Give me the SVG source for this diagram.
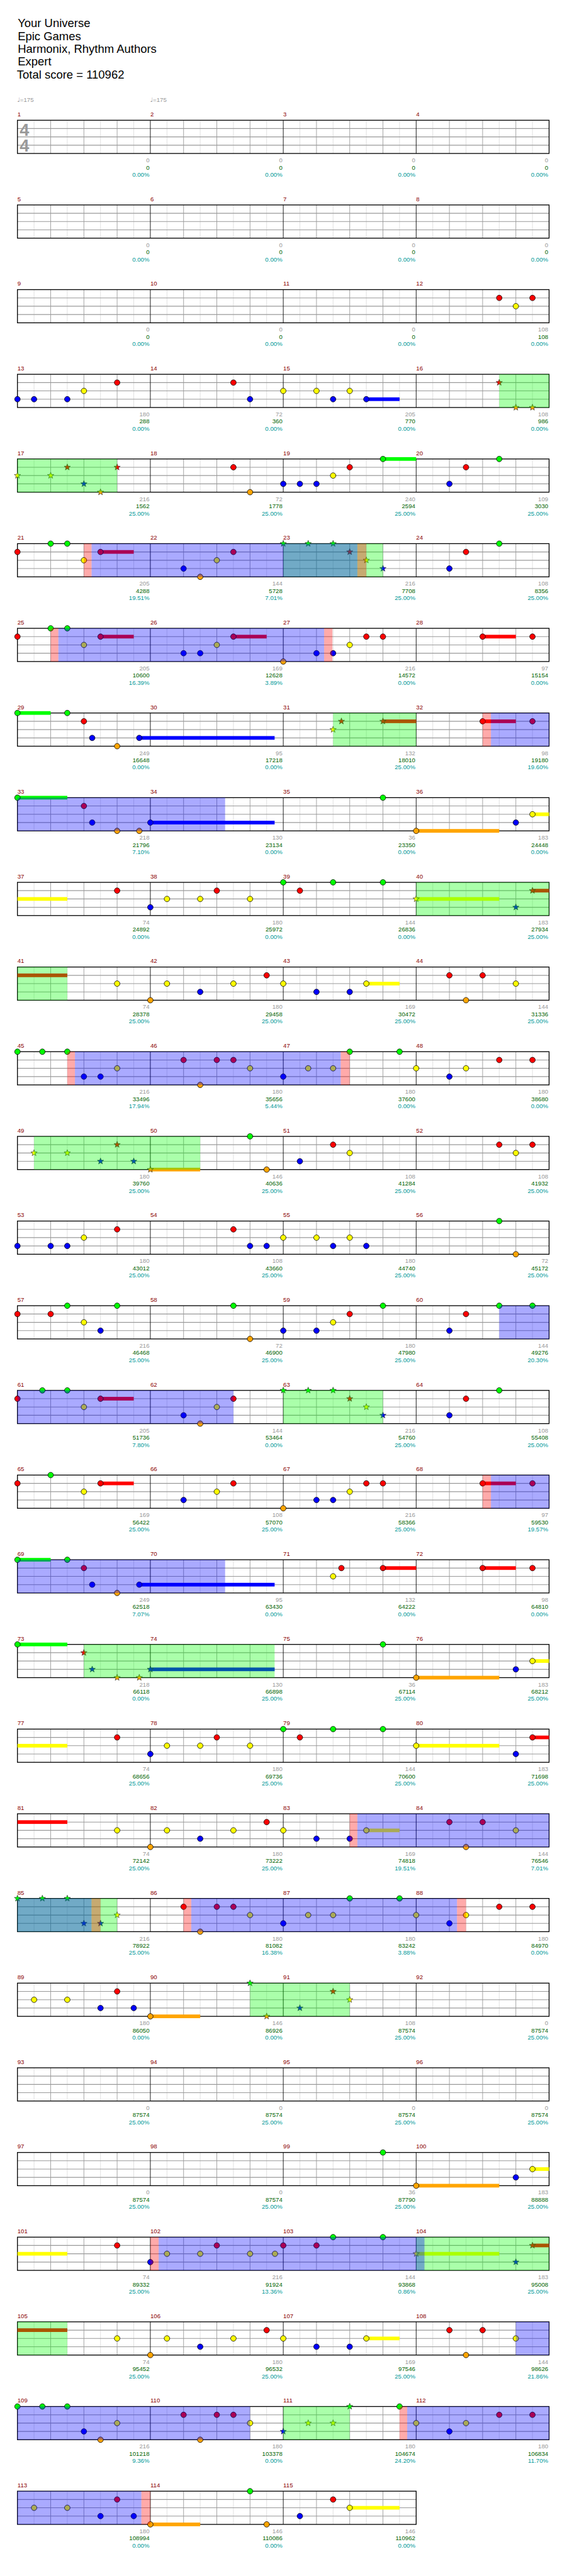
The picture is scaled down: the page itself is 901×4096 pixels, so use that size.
<svg xmlns="http://www.w3.org/2000/svg" xmlns:xlink="http://www.w3.org/1999/xlink" width="901" height="4096" viewBox="0 0 901 4096">
<style>
text{font-family:"Liberation Sans",Arial,sans-serif}
.ttl{font-size:21px;fill:#000}
.m{font-size:11px;fill:#8b0000}
.a{font-size:11px;fill:#999;text-anchor:end}
.c{font-size:11px;fill:#006400;text-anchor:end}
.d{font-size:11px;fill:#009999;text-anchor:end}
.tmp{font-size:11px;fill:#999}
.ts{font-size:31px;font-weight:bold;fill:#999;text-anchor:middle}
.n{stroke:#000;stroke-width:.9}
.st{stroke:#222;stroke-width:.7}
.G{fill:#00ff00}.R{fill:#ff0000}.Y{fill:#ffff00}.B{fill:#0000ff}.O{fill:#ffa500}
.og{fill:#00ff00;fill-opacity:.333}.ob{fill:#0000ff;fill-opacity:.333}.or{fill:#ff0000;fill-opacity:.333}
</style>
<defs>
<path id="star" d="M0,-6L1.47,-2.02L5.71,-1.85L2.38,0.77L3.53,4.85L0,2.5L-3.53,4.85L-2.38,0.77L-5.71,-1.85L-1.47,-2.02Z"/>
<g id="staff4">
<path d="M61.5 0V60M121.5 0V60M181.5 0V60M241.5 0V60M301.5 0V60M361.5 0V60M421.5 0V60M481.5 0V60M541.5 0V60M601.5 0V60M661.5 0V60M721.5 0V60M781.5 0V60M841.5 0V60M901.5 0V60M961.5 0V60" stroke="#ddd" stroke-width="1" fill="none"/>
<path d="M91.5 0V60M151.5 0V60M211.5 0V60M331.5 0V60M391.5 0V60M451.5 0V60M571.5 0V60M631.5 0V60M691.5 0V60M811.5 0V60M871.5 0V60M931.5 0V60" stroke="#999" stroke-width="1" fill="none"/>
<path d="M31.5 15H991.5M31.5 30H991.5M31.5 45H991.5" stroke="#999" stroke-width="1.3" fill="none"/>
<path d="M271.5 0V60M511.5 0V60M751.5 0V60" stroke="#000" stroke-width="1" fill="none"/>
<rect x="31.5" y="0" width="960" height="60" fill="none" stroke="#000" stroke-width="1.5"/>
</g>
<g id="staff3">
<path d="M61.5 0V60M121.5 0V60M181.5 0V60M241.5 0V60M301.5 0V60M361.5 0V60M421.5 0V60M481.5 0V60M541.5 0V60M601.5 0V60M661.5 0V60M721.5 0V60" stroke="#ddd" stroke-width="1" fill="none"/>
<path d="M91.5 0V60M151.5 0V60M211.5 0V60M331.5 0V60M391.5 0V60M451.5 0V60M571.5 0V60M631.5 0V60M691.5 0V60" stroke="#999" stroke-width="1" fill="none"/>
<path d="M31.5 15H751.5M31.5 30H751.5M31.5 45H751.5" stroke="#999" stroke-width="1.3" fill="none"/>
<path d="M271.5 0V60M511.5 0V60" stroke="#000" stroke-width="1" fill="none"/>
<rect x="31.5" y="0" width="720" height="60" fill="none" stroke="#000" stroke-width="1.5"/>
</g>
</defs>
<rect x="0" y="0" width="901" height="4096" fill="#fff"/>
<g transform="scale(0.88)">
<g id="header">
<text class="ttl" x="32" y="49">Your Universe</text>
<text class="ttl" x="32" y="72.2">Epic Games</text>
<text class="ttl" x="32" y="95.4">Harmonix, Rhythm Authors</text>
<text class="ttl" x="32" y="118.6">Expert</text>
<text class="ttl" x="30.5" y="141.8">Total score = 110962</text>
<text class="tmp" x="31" y="184"><tspan font-family="DejaVu Sans">♩</tspan>=175</text>
<text class="tmp" x="271" y="184"><tspan font-family="DejaVu Sans">♩</tspan>=175</text>
</g>

<g id="row1" transform="translate(0,217.3)">
<use href="#staff4"/>
<text class="ts" x="44" y="27.7">4</text><text class="ts" x="44" y="56.7">4</text>
<text class="m" x="31.5" y="-7">1</text><text class="m" x="271.5" y="-7">2</text><text class="m" x="511.5" y="-7">3</text><text class="m" x="751.5" y="-7">4</text>
<text class="a" x="270" y="76">0</text><text class="c" x="270" y="89">0</text><text class="d" x="270" y="102">0.00%</text>
<text class="a" x="510" y="76">0</text><text class="c" x="510" y="89">0</text><text class="d" x="510" y="102">0.00%</text>
<text class="a" x="750" y="76">0</text><text class="c" x="750" y="89">0</text><text class="d" x="750" y="102">0.00%</text>
<text class="a" x="990" y="76">0</text><text class="c" x="990" y="89">0</text><text class="d" x="990" y="102">0.00%</text>
</g>

<g id="row2" transform="translate(0,370.3)">
<use href="#staff4"/>
<text class="m" x="31.5" y="-7">5</text><text class="m" x="271.5" y="-7">6</text><text class="m" x="511.5" y="-7">7</text><text class="m" x="751.5" y="-7">8</text>
<text class="a" x="270" y="76">0</text><text class="c" x="270" y="89">0</text><text class="d" x="270" y="102">0.00%</text>
<text class="a" x="510" y="76">0</text><text class="c" x="510" y="89">0</text><text class="d" x="510" y="102">0.00%</text>
<text class="a" x="750" y="76">0</text><text class="c" x="750" y="89">0</text><text class="d" x="750" y="102">0.00%</text>
<text class="a" x="990" y="76">0</text><text class="c" x="990" y="89">0</text><text class="d" x="990" y="102">0.00%</text>
</g>

<g id="row3" transform="translate(0,523.3)">
<use href="#staff4"/>
<text class="m" x="31.5" y="-7">9</text><text class="m" x="271.5" y="-7">10</text><text class="m" x="511.5" y="-7">11</text><text class="m" x="751.5" y="-7">12</text>
<text class="a" x="270" y="76">0</text><text class="c" x="270" y="89">0</text><text class="d" x="270" y="102">0.00%</text>
<text class="a" x="510" y="76">0</text><text class="c" x="510" y="89">0</text><text class="d" x="510" y="102">0.00%</text>
<text class="a" x="750" y="76">0</text><text class="c" x="750" y="89">0</text><text class="d" x="750" y="102">0.00%</text>
<text class="a" x="990" y="76">108</text><text class="c" x="990" y="89">108</text><text class="d" x="990" y="102">0.00%</text>
<circle class="n R" cx="901.5" cy="15" r="5"/><circle class="n Y" cx="931.5" cy="30" r="5"/><circle class="n R" cx="961.5" cy="15" r="5"/>
</g>

<g id="row4" transform="translate(0,676.3)">
<use href="#staff4"/>
<text class="m" x="31.5" y="-7">13</text><text class="m" x="271.5" y="-7">14</text><text class="m" x="511.5" y="-7">15</text><text class="m" x="751.5" y="-7">16</text>
<text class="a" x="270" y="76">180</text><text class="c" x="270" y="89">288</text><text class="d" x="270" y="102">0.00%</text>
<text class="a" x="510" y="76">72</text><text class="c" x="510" y="89">360</text><text class="d" x="510" y="102">0.00%</text>
<text class="a" x="750" y="76">205</text><text class="c" x="750" y="89">770</text><text class="d" x="750" y="102">0.00%</text>
<text class="a" x="990" y="76">108</text><text class="c" x="990" y="89">986</text><text class="d" x="990" y="102">0.00%</text>
<rect class="B" x="661.5" y="41.7" width="60" height="6.6"/>
<circle class="n B" cx="31.5" cy="45" r="5"/><circle class="n B" cx="61.5" cy="45" r="5"/><circle class="n B" cx="121.5" cy="45" r="5"/><circle class="n Y" cx="151.5" cy="30" r="5"/><circle class="n R" cx="211.5" cy="15" r="5"/><circle class="n R" cx="421.5" cy="15" r="5"/><circle class="n B" cx="451.5" cy="45" r="5"/><circle class="n Y" cx="511.5" cy="30" r="5"/><circle class="n Y" cx="571.5" cy="30" r="5"/><circle class="n B" cx="601.5" cy="45" r="5"/><circle class="n Y" cx="631.5" cy="30" r="5"/><circle class="n B" cx="661.5" cy="45" r="5"/>
<use href="#star" class="st R" x="901.5" y="15"/><use href="#star" class="st O" x="931.5" y="60"/><use href="#star" class="st O" x="961.5" y="60"/>
<rect class="og" x="901.5" y="0" width="90" height="60"/>
</g>

<g id="row5" transform="translate(0,829.3)">
<use href="#staff4"/>
<text class="m" x="31.5" y="-7">17</text><text class="m" x="271.5" y="-7">18</text><text class="m" x="511.5" y="-7">19</text><text class="m" x="751.5" y="-7">20</text>
<text class="a" x="270" y="76">216</text><text class="c" x="270" y="89">1562</text><text class="d" x="270" y="102">25.00%</text>
<text class="a" x="510" y="76">72</text><text class="c" x="510" y="89">1778</text><text class="d" x="510" y="102">25.00%</text>
<text class="a" x="750" y="76">240</text><text class="c" x="750" y="89">2594</text><text class="d" x="750" y="102">25.00%</text>
<text class="a" x="990" y="76">109</text><text class="c" x="990" y="89">3030</text><text class="d" x="990" y="102">25.00%</text>
<rect class="G" x="691.5" y="-3.3" width="60" height="6.6"/>
<circle class="n R" cx="421.5" cy="15" r="5"/><circle class="n O" cx="451.5" cy="60" r="5"/><circle class="n B" cx="511.5" cy="45" r="5"/><circle class="n B" cx="541.5" cy="45" r="5"/><circle class="n B" cx="571.5" cy="45" r="5"/><circle class="n Y" cx="601.5" cy="30" r="5"/><circle class="n R" cx="631.5" cy="15" r="5"/><circle class="n G" cx="691.5" cy="0" r="5"/><circle class="n B" cx="811.5" cy="45" r="5"/><circle class="n R" cx="841.5" cy="15" r="5"/><circle class="n G" cx="901.5" cy="0" r="5"/>
<use href="#star" class="st Y" x="31.5" y="30"/><use href="#star" class="st Y" x="91.5" y="30"/><use href="#star" class="st R" x="121.5" y="15"/><use href="#star" class="st B" x="151.5" y="45"/><use href="#star" class="st O" x="181.5" y="60"/><use href="#star" class="st R" x="211.5" y="15"/>
<rect class="og" x="31.5" y="0" width="180" height="60"/>
</g>

<g id="row6" transform="translate(0,982.3)">
<use href="#staff4"/>
<text class="m" x="31.5" y="-7">21</text><text class="m" x="271.5" y="-7">22</text><text class="m" x="511.5" y="-7">23</text><text class="m" x="751.5" y="-7">24</text>
<text class="a" x="270" y="76">205</text><text class="c" x="270" y="89">4288</text><text class="d" x="270" y="102">19.51%</text>
<text class="a" x="510" y="76">144</text><text class="c" x="510" y="89">5728</text><text class="d" x="510" y="102">7.01%</text>
<text class="a" x="750" y="76">216</text><text class="c" x="750" y="89">7708</text><text class="d" x="750" y="102">25.00%</text>
<text class="a" x="990" y="76">108</text><text class="c" x="990" y="89">8356</text><text class="d" x="990" y="102">25.00%</text>
<rect class="R" x="181.5" y="11.7" width="60" height="6.6"/>
<circle class="n R" cx="31.5" cy="15" r="5"/><circle class="n G" cx="91.5" cy="0" r="5"/><circle class="n G" cx="121.5" cy="0" r="5"/><circle class="n Y" cx="151.5" cy="30" r="5"/><circle class="n R" cx="181.5" cy="15" r="5"/><circle class="n B" cx="331.5" cy="45" r="5"/><circle class="n O" cx="361.5" cy="60" r="5"/><circle class="n Y" cx="391.5" cy="30" r="5"/><circle class="n R" cx="421.5" cy="15" r="5"/><circle class="n B" cx="811.5" cy="45" r="5"/><circle class="n R" cx="841.5" cy="15" r="5"/><circle class="n G" cx="901.5" cy="0" r="5"/>
<use href="#star" class="st G" x="511.5" y="0"/><use href="#star" class="st G" x="556.5" y="0"/><use href="#star" class="st G" x="601.5" y="0"/><use href="#star" class="st R" x="631.5" y="15"/><use href="#star" class="st Y" x="661.5" y="30"/><use href="#star" class="st B" x="691.5" y="45"/>
<rect class="og" x="511.5" y="0" width="180" height="60"/>
<rect class="ob" x="165.3" y="0" width="480" height="60"/>
<rect class="or" x="151.5" y="0" width="13.8" height="60"/><rect class="or" x="645.3" y="0" width="16.2" height="60"/>
</g>

<g id="row7" transform="translate(0,1135.3)">
<use href="#staff4"/>
<text class="m" x="31.5" y="-7">25</text><text class="m" x="271.5" y="-7">26</text><text class="m" x="511.5" y="-7">27</text><text class="m" x="751.5" y="-7">28</text>
<text class="a" x="270" y="76">205</text><text class="c" x="270" y="89">10600</text><text class="d" x="270" y="102">16.39%</text>
<text class="a" x="510" y="76">169</text><text class="c" x="510" y="89">12628</text><text class="d" x="510" y="102">3.89%</text>
<text class="a" x="750" y="76">216</text><text class="c" x="750" y="89">14572</text><text class="d" x="750" y="102">0.00%</text>
<text class="a" x="990" y="76">97</text><text class="c" x="990" y="89">15154</text><text class="d" x="990" y="102">0.00%</text>
<rect class="R" x="181.5" y="11.7" width="60" height="6.6"/><rect class="R" x="421.5" y="11.7" width="60" height="6.6"/><rect class="R" x="871.5" y="11.7" width="60" height="6.6"/>
<circle class="n R" cx="31.5" cy="15" r="5"/><circle class="n G" cx="91.5" cy="0" r="5"/><circle class="n G" cx="121.5" cy="0" r="5"/><circle class="n Y" cx="151.5" cy="30" r="5"/><circle class="n R" cx="181.5" cy="15" r="5"/><circle class="n B" cx="331.5" cy="45" r="5"/><circle class="n B" cx="361.5" cy="45" r="5"/><circle class="n Y" cx="391.5" cy="30" r="5"/><circle class="n R" cx="421.5" cy="15" r="5"/><circle class="n O" cx="511.5" cy="60" r="5"/><circle class="n B" cx="571.5" cy="45" r="5"/><circle class="n B" cx="601.5" cy="45" r="5"/><circle class="n Y" cx="631.5" cy="30" r="5"/><circle class="n R" cx="661.5" cy="15" r="5"/><circle class="n R" cx="691.5" cy="15" r="5"/><circle class="n R" cx="871.5" cy="15" r="5"/><circle class="n R" cx="961.5" cy="15" r="5"/>
<rect class="ob" x="105.3" y="0" width="480" height="60"/>
<rect class="or" x="91.5" y="0" width="13.8" height="60"/><rect class="or" x="585.3" y="0" width="15" height="60"/>
</g>

<g id="row8" transform="translate(0,1288.3)">
<use href="#staff4"/>
<text class="m" x="31.5" y="-7">29</text><text class="m" x="271.5" y="-7">30</text><text class="m" x="511.5" y="-7">31</text><text class="m" x="751.5" y="-7">32</text>
<text class="a" x="270" y="76">249</text><text class="c" x="270" y="89">16648</text><text class="d" x="270" y="102">0.00%</text>
<text class="a" x="510" y="76">95</text><text class="c" x="510" y="89">17218</text><text class="d" x="510" y="102">0.00%</text>
<text class="a" x="750" y="76">132</text><text class="c" x="750" y="89">18010</text><text class="d" x="750" y="102">25.00%</text>
<text class="a" x="990" y="76">98</text><text class="c" x="990" y="89">19180</text><text class="d" x="990" y="102">19.60%</text>
<rect class="G" x="31.5" y="-3.3" width="60" height="6.6"/><rect class="B" x="251.5" y="41.7" width="244.4" height="6.6"/><rect class="R" x="691.5" y="11.7" width="60" height="6.6"/><rect class="R" x="871.5" y="11.7" width="60" height="6.6"/>
<circle class="n G" cx="31.5" cy="0" r="5"/><circle class="n G" cx="121.5" cy="0" r="5"/><circle class="n R" cx="151.5" cy="15" r="5"/><circle class="n B" cx="166.5" cy="45" r="5"/><circle class="n O" cx="211.5" cy="60" r="5"/><circle class="n B" cx="251.5" cy="45" r="5"/><circle class="n R" cx="871.5" cy="15" r="5"/><circle class="n R" cx="961.5" cy="15" r="5"/>
<use href="#star" class="st Y" x="601.5" y="30"/><use href="#star" class="st R" x="616.5" y="15"/><use href="#star" class="st R" x="691.5" y="15"/>
<rect class="og" x="601.5" y="0" width="150" height="60"/>
<rect class="ob" x="886.5" y="0" width="105" height="60"/>
<rect class="or" x="871.5" y="0" width="15" height="60"/>
</g>

<g id="row9" transform="translate(0,1441.3)">
<use href="#staff4"/>
<text class="m" x="31.5" y="-7">33</text><text class="m" x="271.5" y="-7">34</text><text class="m" x="511.5" y="-7">35</text><text class="m" x="751.5" y="-7">36</text>
<text class="a" x="270" y="76">218</text><text class="c" x="270" y="89">21796</text><text class="d" x="270" y="102">7.10%</text>
<text class="a" x="510" y="76">130</text><text class="c" x="510" y="89">23134</text><text class="d" x="510" y="102">0.00%</text>
<text class="a" x="750" y="76">36</text><text class="c" x="750" y="89">23350</text><text class="d" x="750" y="102">0.00%</text>
<text class="a" x="990" y="76">183</text><text class="c" x="990" y="89">24448</text><text class="d" x="990" y="102">0.00%</text>
<rect class="G" x="31.5" y="-3.3" width="90" height="6.6"/><rect class="B" x="271.5" y="41.7" width="224.4" height="6.6"/><rect class="O" x="751.5" y="56.7" width="150" height="6.6"/><rect class="Y" x="961.5" y="26.7" width="30" height="6.6"/>
<circle class="n G" cx="31.5" cy="0" r="5"/><circle class="n R" cx="151.5" cy="15" r="5"/><circle class="n B" cx="166.5" cy="45" r="5"/><circle class="n O" cx="211.5" cy="60" r="5"/><circle class="n O" cx="251.5" cy="60" r="5"/><circle class="n B" cx="271.5" cy="45" r="5"/><circle class="n G" cx="691.5" cy="0" r="5"/><circle class="n O" cx="751.5" cy="60" r="5"/><circle class="n B" cx="931.5" cy="45" r="5"/><circle class="n Y" cx="961.5" cy="30" r="5"/>
<rect class="ob" x="31.5" y="0" width="375" height="60"/>
</g>

<g id="row10" transform="translate(0,1594.3)">
<use href="#staff4"/>
<text class="m" x="31.5" y="-7">37</text><text class="m" x="271.5" y="-7">38</text><text class="m" x="511.5" y="-7">39</text><text class="m" x="751.5" y="-7">40</text>
<text class="a" x="270" y="76">74</text><text class="c" x="270" y="89">24892</text><text class="d" x="270" y="102">0.00%</text>
<text class="a" x="510" y="76">180</text><text class="c" x="510" y="89">25972</text><text class="d" x="510" y="102">0.00%</text>
<text class="a" x="750" y="76">144</text><text class="c" x="750" y="89">26836</text><text class="d" x="750" y="102">0.00%</text>
<text class="a" x="990" y="76">183</text><text class="c" x="990" y="89">27934</text><text class="d" x="990" y="102">25.00%</text>
<rect class="Y" x="31.5" y="26.7" width="90" height="6.6"/><rect class="Y" x="751.5" y="26.7" width="150" height="6.6"/><rect class="R" x="961.5" y="11.7" width="30" height="6.6"/>
<circle class="n R" cx="211.5" cy="15" r="5"/><circle class="n B" cx="271.5" cy="45" r="5"/><circle class="n Y" cx="301.5" cy="30" r="5"/><circle class="n Y" cx="361.5" cy="30" r="5"/><circle class="n R" cx="391.5" cy="15" r="5"/><circle class="n Y" cx="451.5" cy="30" r="5"/><circle class="n G" cx="511.5" cy="0" r="5"/><circle class="n R" cx="541.5" cy="15" r="5"/><circle class="n G" cx="601.5" cy="0" r="5"/><circle class="n G" cx="691.5" cy="0" r="5"/>
<use href="#star" class="st Y" x="751.5" y="30"/><use href="#star" class="st B" x="931.5" y="45"/><use href="#star" class="st R" x="961.5" y="15"/>
<rect class="og" x="751.5" y="0" width="240" height="60"/>
</g>

<g id="row11" transform="translate(0,1747.3)">
<use href="#staff4"/>
<text class="m" x="31.5" y="-7">41</text><text class="m" x="271.5" y="-7">42</text><text class="m" x="511.5" y="-7">43</text><text class="m" x="751.5" y="-7">44</text>
<text class="a" x="270" y="76">74</text><text class="c" x="270" y="89">28378</text><text class="d" x="270" y="102">25.00%</text>
<text class="a" x="510" y="76">180</text><text class="c" x="510" y="89">29458</text><text class="d" x="510" y="102">25.00%</text>
<text class="a" x="750" y="76">169</text><text class="c" x="750" y="89">30472</text><text class="d" x="750" y="102">25.00%</text>
<text class="a" x="990" y="76">144</text><text class="c" x="990" y="89">31336</text><text class="d" x="990" y="102">25.00%</text>
<rect class="R" x="31.5" y="11.7" width="90" height="6.6"/><rect class="Y" x="661.5" y="26.7" width="60" height="6.6"/>
<circle class="n Y" cx="211.5" cy="30" r="5"/><circle class="n O" cx="271.5" cy="60" r="5"/><circle class="n Y" cx="301.5" cy="30" r="5"/><circle class="n B" cx="361.5" cy="45" r="5"/><circle class="n Y" cx="421.5" cy="30" r="5"/><circle class="n R" cx="481.5" cy="15" r="5"/><circle class="n Y" cx="511.5" cy="30" r="5"/><circle class="n B" cx="571.5" cy="45" r="5"/><circle class="n B" cx="631.5" cy="45" r="5"/><circle class="n Y" cx="661.5" cy="30" r="5"/><circle class="n R" cx="811.5" cy="15" r="5"/><circle class="n O" cx="841.5" cy="60" r="5"/><circle class="n R" cx="871.5" cy="15" r="5"/><circle class="n Y" cx="931.5" cy="30" r="5"/>
<rect class="og" x="31.5" y="0" width="90" height="60"/>
</g>

<g id="row12" transform="translate(0,1900.3)">
<use href="#staff4"/>
<text class="m" x="31.5" y="-7">45</text><text class="m" x="271.5" y="-7">46</text><text class="m" x="511.5" y="-7">47</text><text class="m" x="751.5" y="-7">48</text>
<text class="a" x="270" y="76">216</text><text class="c" x="270" y="89">33496</text><text class="d" x="270" y="102">17.94%</text>
<text class="a" x="510" y="76">180</text><text class="c" x="510" y="89">35656</text><text class="d" x="510" y="102">5.44%</text>
<text class="a" x="750" y="76">180</text><text class="c" x="750" y="89">37600</text><text class="d" x="750" y="102">0.00%</text>
<text class="a" x="990" y="76">180</text><text class="c" x="990" y="89">38680</text><text class="d" x="990" y="102">0.00%</text>
<circle class="n G" cx="31.5" cy="0" r="5"/><circle class="n G" cx="76.5" cy="0" r="5"/><circle class="n G" cx="121.5" cy="0" r="5"/><circle class="n B" cx="151.5" cy="45" r="5"/><circle class="n B" cx="181.5" cy="45" r="5"/><circle class="n Y" cx="211.5" cy="30" r="5"/><circle class="n R" cx="331.5" cy="15" r="5"/><circle class="n O" cx="361.5" cy="60" r="5"/><circle class="n R" cx="391.5" cy="15" r="5"/><circle class="n R" cx="421.5" cy="15" r="5"/><circle class="n Y" cx="451.5" cy="30" r="5"/><circle class="n B" cx="511.5" cy="45" r="5"/><circle class="n Y" cx="556.5" cy="30" r="5"/><circle class="n Y" cx="601.5" cy="30" r="5"/><circle class="n G" cx="631.5" cy="0" r="5"/><circle class="n G" cx="721.5" cy="0" r="5"/><circle class="n Y" cx="751.5" cy="30" r="5"/><circle class="n B" cx="811.5" cy="45" r="5"/><circle class="n Y" cx="841.5" cy="30" r="5"/><circle class="n R" cx="901.5" cy="15" r="5"/><circle class="n R" cx="961.5" cy="15" r="5"/>
<rect class="ob" x="135.3" y="0" width="480" height="60"/>
<rect class="or" x="121.5" y="0" width="13.8" height="60"/><rect class="or" x="615.3" y="0" width="16.2" height="60"/>
</g>

<g id="row13" transform="translate(0,2053.3)">
<use href="#staff4"/>
<text class="m" x="31.5" y="-7">49</text><text class="m" x="271.5" y="-7">50</text><text class="m" x="511.5" y="-7">51</text><text class="m" x="751.5" y="-7">52</text>
<text class="a" x="270" y="76">180</text><text class="c" x="270" y="89">39760</text><text class="d" x="270" y="102">25.00%</text>
<text class="a" x="510" y="76">146</text><text class="c" x="510" y="89">40636</text><text class="d" x="510" y="102">25.00%</text>
<text class="a" x="750" y="76">108</text><text class="c" x="750" y="89">41284</text><text class="d" x="750" y="102">25.00%</text>
<text class="a" x="990" y="76">108</text><text class="c" x="990" y="89">41932</text><text class="d" x="990" y="102">25.00%</text>
<rect class="O" x="271.5" y="56.7" width="90" height="6.6"/>
<circle class="n G" cx="451.5" cy="0" r="5"/><circle class="n O" cx="481.5" cy="60" r="5"/><circle class="n B" cx="541.5" cy="45" r="5"/><circle class="n R" cx="601.5" cy="15" r="5"/><circle class="n Y" cx="631.5" cy="30" r="5"/><circle class="n R" cx="901.5" cy="15" r="5"/><circle class="n Y" cx="931.5" cy="30" r="5"/><circle class="n R" cx="961.5" cy="15" r="5"/>
<use href="#star" class="st Y" x="61.5" y="30"/><use href="#star" class="st Y" x="121.5" y="30"/><use href="#star" class="st B" x="181.5" y="45"/><use href="#star" class="st R" x="211.5" y="15"/><use href="#star" class="st B" x="241.5" y="45"/><use href="#star" class="st O" x="271.5" y="60"/>
<rect class="og" x="61.5" y="0" width="300" height="60"/>
</g>

<g id="row14" transform="translate(0,2206.3)">
<use href="#staff4"/>
<text class="m" x="31.5" y="-7">53</text><text class="m" x="271.5" y="-7">54</text><text class="m" x="511.5" y="-7">55</text><text class="m" x="751.5" y="-7">56</text>
<text class="a" x="270" y="76">180</text><text class="c" x="270" y="89">43012</text><text class="d" x="270" y="102">25.00%</text>
<text class="a" x="510" y="76">108</text><text class="c" x="510" y="89">43660</text><text class="d" x="510" y="102">25.00%</text>
<text class="a" x="750" y="76">180</text><text class="c" x="750" y="89">44740</text><text class="d" x="750" y="102">25.00%</text>
<text class="a" x="990" y="76">72</text><text class="c" x="990" y="89">45172</text><text class="d" x="990" y="102">25.00%</text>
<circle class="n B" cx="31.5" cy="45" r="5"/><circle class="n B" cx="91.5" cy="45" r="5"/><circle class="n B" cx="121.5" cy="45" r="5"/><circle class="n Y" cx="151.5" cy="30" r="5"/><circle class="n R" cx="211.5" cy="15" r="5"/><circle class="n R" cx="421.5" cy="15" r="5"/><circle class="n B" cx="451.5" cy="45" r="5"/><circle class="n B" cx="481.5" cy="45" r="5"/><circle class="n Y" cx="511.5" cy="30" r="5"/><circle class="n Y" cx="571.5" cy="30" r="5"/><circle class="n B" cx="601.5" cy="45" r="5"/><circle class="n Y" cx="631.5" cy="30" r="5"/><circle class="n B" cx="661.5" cy="45" r="5"/><circle class="n G" cx="901.5" cy="0" r="5"/><circle class="n O" cx="931.5" cy="60" r="5"/>
</g>

<g id="row15" transform="translate(0,2359.3)">
<use href="#staff4"/>
<text class="m" x="31.5" y="-7">57</text><text class="m" x="271.5" y="-7">58</text><text class="m" x="511.5" y="-7">59</text><text class="m" x="751.5" y="-7">60</text>
<text class="a" x="270" y="76">216</text><text class="c" x="270" y="89">46468</text><text class="d" x="270" y="102">25.00%</text>
<text class="a" x="510" y="76">72</text><text class="c" x="510" y="89">46900</text><text class="d" x="510" y="102">25.00%</text>
<text class="a" x="750" y="76">180</text><text class="c" x="750" y="89">47980</text><text class="d" x="750" y="102">25.00%</text>
<text class="a" x="990" y="76">144</text><text class="c" x="990" y="89">49276</text><text class="d" x="990" y="102">20.30%</text>
<circle class="n R" cx="31.5" cy="15" r="5"/><circle class="n R" cx="91.5" cy="15" r="5"/><circle class="n G" cx="121.5" cy="0" r="5"/><circle class="n Y" cx="151.5" cy="30" r="5"/><circle class="n B" cx="181.5" cy="45" r="5"/><circle class="n G" cx="211.5" cy="0" r="5"/><circle class="n G" cx="421.5" cy="0" r="5"/><circle class="n O" cx="451.5" cy="60" r="5"/><circle class="n B" cx="511.5" cy="45" r="5"/><circle class="n B" cx="571.5" cy="45" r="5"/><circle class="n Y" cx="601.5" cy="30" r="5"/><circle class="n R" cx="631.5" cy="15" r="5"/><circle class="n G" cx="691.5" cy="0" r="5"/><circle class="n B" cx="811.5" cy="45" r="5"/><circle class="n R" cx="841.5" cy="15" r="5"/><circle class="n G" cx="901.5" cy="0" r="5"/><circle class="n G" cx="961.5" cy="0" r="5"/>
<rect class="ob" x="901.5" y="0" width="90" height="60"/>
</g>

<g id="row16" transform="translate(0,2512.3)">
<use href="#staff4"/>
<text class="m" x="31.5" y="-7">61</text><text class="m" x="271.5" y="-7">62</text><text class="m" x="511.5" y="-7">63</text><text class="m" x="751.5" y="-7">64</text>
<text class="a" x="270" y="76">205</text><text class="c" x="270" y="89">51736</text><text class="d" x="270" y="102">7.80%</text>
<text class="a" x="510" y="76">144</text><text class="c" x="510" y="89">53464</text><text class="d" x="510" y="102">0.00%</text>
<text class="a" x="750" y="76">216</text><text class="c" x="750" y="89">54760</text><text class="d" x="750" y="102">25.00%</text>
<text class="a" x="990" y="76">108</text><text class="c" x="990" y="89">55408</text><text class="d" x="990" y="102">25.00%</text>
<rect class="R" x="181.5" y="11.7" width="60" height="6.6"/>
<circle class="n R" cx="31.5" cy="15" r="5"/><circle class="n G" cx="76.5" cy="0" r="5"/><circle class="n G" cx="121.5" cy="0" r="5"/><circle class="n Y" cx="151.5" cy="30" r="5"/><circle class="n R" cx="181.5" cy="15" r="5"/><circle class="n B" cx="331.5" cy="45" r="5"/><circle class="n O" cx="361.5" cy="60" r="5"/><circle class="n Y" cx="391.5" cy="30" r="5"/><circle class="n R" cx="421.5" cy="15" r="5"/><circle class="n B" cx="811.5" cy="45" r="5"/><circle class="n R" cx="841.5" cy="15" r="5"/><circle class="n G" cx="901.5" cy="0" r="5"/>
<use href="#star" class="st G" x="511.5" y="0"/><use href="#star" class="st G" x="556.5" y="0"/><use href="#star" class="st G" x="601.5" y="0"/><use href="#star" class="st R" x="631.5" y="15"/><use href="#star" class="st Y" x="661.5" y="30"/><use href="#star" class="st B" x="691.5" y="45"/>
<rect class="og" x="511.5" y="0" width="180" height="60"/>
<rect class="ob" x="31.5" y="0" width="390" height="60"/>
</g>

<g id="row17" transform="translate(0,2665.3)">
<use href="#staff4"/>
<text class="m" x="31.5" y="-7">65</text><text class="m" x="271.5" y="-7">66</text><text class="m" x="511.5" y="-7">67</text><text class="m" x="751.5" y="-7">68</text>
<text class="a" x="270" y="76">169</text><text class="c" x="270" y="89">56422</text><text class="d" x="270" y="102">25.00%</text>
<text class="a" x="510" y="76">108</text><text class="c" x="510" y="89">57070</text><text class="d" x="510" y="102">25.00%</text>
<text class="a" x="750" y="76">216</text><text class="c" x="750" y="89">58366</text><text class="d" x="750" y="102">25.00%</text>
<text class="a" x="990" y="76">97</text><text class="c" x="990" y="89">59530</text><text class="d" x="990" y="102">19.57%</text>
<rect class="R" x="181.5" y="11.7" width="60" height="6.6"/><rect class="R" x="871.5" y="11.7" width="60" height="6.6"/>
<circle class="n R" cx="31.5" cy="15" r="5"/><circle class="n G" cx="91.5" cy="0" r="5"/><circle class="n Y" cx="151.5" cy="30" r="5"/><circle class="n R" cx="181.5" cy="15" r="5"/><circle class="n B" cx="331.5" cy="45" r="5"/><circle class="n Y" cx="391.5" cy="30" r="5"/><circle class="n R" cx="421.5" cy="15" r="5"/><circle class="n O" cx="511.5" cy="60" r="5"/><circle class="n B" cx="571.5" cy="45" r="5"/><circle class="n B" cx="601.5" cy="45" r="5"/><circle class="n Y" cx="631.5" cy="30" r="5"/><circle class="n R" cx="661.5" cy="15" r="5"/><circle class="n R" cx="691.5" cy="15" r="5"/><circle class="n R" cx="871.5" cy="15" r="5"/><circle class="n R" cx="961.5" cy="15" r="5"/>
<rect class="ob" x="886.5" y="0" width="105" height="60"/>
<rect class="or" x="871.5" y="0" width="15" height="60"/>
</g>

<g id="row18" transform="translate(0,2818.3)">
<use href="#staff4"/>
<text class="m" x="31.5" y="-7">69</text><text class="m" x="271.5" y="-7">70</text><text class="m" x="511.5" y="-7">71</text><text class="m" x="751.5" y="-7">72</text>
<text class="a" x="270" y="76">249</text><text class="c" x="270" y="89">62518</text><text class="d" x="270" y="102">7.07%</text>
<text class="a" x="510" y="76">95</text><text class="c" x="510" y="89">63430</text><text class="d" x="510" y="102">0.00%</text>
<text class="a" x="750" y="76">132</text><text class="c" x="750" y="89">64222</text><text class="d" x="750" y="102">0.00%</text>
<text class="a" x="990" y="76">98</text><text class="c" x="990" y="89">64810</text><text class="d" x="990" y="102">0.00%</text>
<rect class="G" x="31.5" y="-3.3" width="60" height="6.6"/><rect class="B" x="251.5" y="41.7" width="244.4" height="6.6"/><rect class="R" x="691.5" y="11.7" width="60" height="6.6"/><rect class="R" x="871.5" y="11.7" width="60" height="6.6"/>
<circle class="n G" cx="31.5" cy="0" r="5"/><circle class="n G" cx="121.5" cy="0" r="5"/><circle class="n R" cx="151.5" cy="15" r="5"/><circle class="n B" cx="166.5" cy="45" r="5"/><circle class="n O" cx="211.5" cy="60" r="5"/><circle class="n B" cx="251.5" cy="45" r="5"/><circle class="n Y" cx="601.5" cy="30" r="5"/><circle class="n R" cx="616.5" cy="15" r="5"/><circle class="n R" cx="691.5" cy="15" r="5"/><circle class="n R" cx="871.5" cy="15" r="5"/><circle class="n R" cx="961.5" cy="15" r="5"/>
<rect class="ob" x="31.5" y="0" width="375" height="60"/>
</g>

<g id="row19" transform="translate(0,2971.3)">
<use href="#staff4"/>
<text class="m" x="31.5" y="-7">73</text><text class="m" x="271.5" y="-7">74</text><text class="m" x="511.5" y="-7">75</text><text class="m" x="751.5" y="-7">76</text>
<text class="a" x="270" y="76">218</text><text class="c" x="270" y="89">66118</text><text class="d" x="270" y="102">0.00%</text>
<text class="a" x="510" y="76">130</text><text class="c" x="510" y="89">66898</text><text class="d" x="510" y="102">25.00%</text>
<text class="a" x="750" y="76">36</text><text class="c" x="750" y="89">67114</text><text class="d" x="750" y="102">25.00%</text>
<text class="a" x="990" y="76">183</text><text class="c" x="990" y="89">68212</text><text class="d" x="990" y="102">25.00%</text>
<rect class="G" x="31.5" y="-3.3" width="90" height="6.6"/><rect class="B" x="271.5" y="41.7" width="224.4" height="6.6"/><rect class="O" x="751.5" y="56.7" width="150" height="6.6"/><rect class="Y" x="961.5" y="26.7" width="30" height="6.6"/>
<circle class="n G" cx="31.5" cy="0" r="5"/><circle class="n G" cx="691.5" cy="0" r="5"/><circle class="n O" cx="751.5" cy="60" r="5"/><circle class="n B" cx="931.5" cy="45" r="5"/><circle class="n Y" cx="961.5" cy="30" r="5"/>
<use href="#star" class="st R" x="151.5" y="15"/><use href="#star" class="st B" x="166.5" y="45"/><use href="#star" class="st O" x="211.5" y="60"/><use href="#star" class="st O" x="251.5" y="60"/><use href="#star" class="st B" x="271.5" y="45"/>
<rect class="og" x="151.5" y="0" width="344.4" height="60"/>
</g>

<g id="row20" transform="translate(0,3124.3)">
<use href="#staff4"/>
<text class="m" x="31.5" y="-7">77</text><text class="m" x="271.5" y="-7">78</text><text class="m" x="511.5" y="-7">79</text><text class="m" x="751.5" y="-7">80</text>
<text class="a" x="270" y="76">74</text><text class="c" x="270" y="89">68656</text><text class="d" x="270" y="102">25.00%</text>
<text class="a" x="510" y="76">180</text><text class="c" x="510" y="89">69736</text><text class="d" x="510" y="102">25.00%</text>
<text class="a" x="750" y="76">144</text><text class="c" x="750" y="89">70600</text><text class="d" x="750" y="102">25.00%</text>
<text class="a" x="990" y="76">183</text><text class="c" x="990" y="89">71698</text><text class="d" x="990" y="102">25.00%</text>
<rect class="Y" x="31.5" y="26.7" width="90" height="6.6"/><rect class="Y" x="751.5" y="26.7" width="150" height="6.6"/><rect class="R" x="961.5" y="11.7" width="30" height="6.6"/>
<circle class="n R" cx="211.5" cy="15" r="5"/><circle class="n B" cx="271.5" cy="45" r="5"/><circle class="n Y" cx="301.5" cy="30" r="5"/><circle class="n Y" cx="361.5" cy="30" r="5"/><circle class="n R" cx="391.5" cy="15" r="5"/><circle class="n Y" cx="451.5" cy="30" r="5"/><circle class="n G" cx="511.5" cy="0" r="5"/><circle class="n R" cx="541.5" cy="15" r="5"/><circle class="n G" cx="601.5" cy="0" r="5"/><circle class="n G" cx="691.5" cy="0" r="5"/><circle class="n Y" cx="751.5" cy="30" r="5"/><circle class="n B" cx="931.5" cy="45" r="5"/><circle class="n R" cx="961.5" cy="15" r="5"/>
</g>

<g id="row21" transform="translate(0,3277.3)">
<use href="#staff4"/>
<text class="m" x="31.5" y="-7">81</text><text class="m" x="271.5" y="-7">82</text><text class="m" x="511.5" y="-7">83</text><text class="m" x="751.5" y="-7">84</text>
<text class="a" x="270" y="76">74</text><text class="c" x="270" y="89">72142</text><text class="d" x="270" y="102">25.00%</text>
<text class="a" x="510" y="76">180</text><text class="c" x="510" y="89">73222</text><text class="d" x="510" y="102">25.00%</text>
<text class="a" x="750" y="76">169</text><text class="c" x="750" y="89">74818</text><text class="d" x="750" y="102">19.51%</text>
<text class="a" x="990" y="76">144</text><text class="c" x="990" y="89">76546</text><text class="d" x="990" y="102">7.01%</text>
<rect class="R" x="31.5" y="11.7" width="90" height="6.6"/><rect class="Y" x="661.5" y="26.7" width="60" height="6.6"/>
<circle class="n Y" cx="211.5" cy="30" r="5"/><circle class="n O" cx="271.5" cy="60" r="5"/><circle class="n Y" cx="301.5" cy="30" r="5"/><circle class="n B" cx="361.5" cy="45" r="5"/><circle class="n Y" cx="421.5" cy="30" r="5"/><circle class="n R" cx="481.5" cy="15" r="5"/><circle class="n Y" cx="511.5" cy="30" r="5"/><circle class="n B" cx="571.5" cy="45" r="5"/><circle class="n B" cx="631.5" cy="45" r="5"/><circle class="n Y" cx="661.5" cy="30" r="5"/><circle class="n R" cx="811.5" cy="15" r="5"/><circle class="n O" cx="841.5" cy="60" r="5"/><circle class="n R" cx="871.5" cy="15" r="5"/><circle class="n Y" cx="931.5" cy="30" r="5"/>
<rect class="ob" x="645.3" y="0" width="346.2" height="60"/>
<rect class="or" x="631.5" y="0" width="13.8" height="60"/>
</g>

<g id="row22" transform="translate(0,3430.3)">
<use href="#staff4"/>
<text class="m" x="31.5" y="-7">85</text><text class="m" x="271.5" y="-7">86</text><text class="m" x="511.5" y="-7">87</text><text class="m" x="751.5" y="-7">88</text>
<text class="a" x="270" y="76">216</text><text class="c" x="270" y="89">78922</text><text class="d" x="270" y="102">25.00%</text>
<text class="a" x="510" y="76">180</text><text class="c" x="510" y="89">81082</text><text class="d" x="510" y="102">16.38%</text>
<text class="a" x="750" y="76">180</text><text class="c" x="750" y="89">83242</text><text class="d" x="750" y="102">3.88%</text>
<text class="a" x="990" y="76">180</text><text class="c" x="990" y="89">84970</text><text class="d" x="990" y="102">0.00%</text>
<circle class="n R" cx="331.5" cy="15" r="5"/><circle class="n O" cx="361.5" cy="60" r="5"/><circle class="n R" cx="391.5" cy="15" r="5"/><circle class="n R" cx="421.5" cy="15" r="5"/><circle class="n Y" cx="451.5" cy="30" r="5"/><circle class="n B" cx="511.5" cy="45" r="5"/><circle class="n Y" cx="556.5" cy="30" r="5"/><circle class="n Y" cx="601.5" cy="30" r="5"/><circle class="n G" cx="631.5" cy="0" r="5"/><circle class="n G" cx="721.5" cy="0" r="5"/><circle class="n Y" cx="751.5" cy="30" r="5"/><circle class="n B" cx="811.5" cy="45" r="5"/><circle class="n Y" cx="841.5" cy="30" r="5"/><circle class="n R" cx="901.5" cy="15" r="5"/><circle class="n R" cx="961.5" cy="15" r="5"/>
<use href="#star" class="st G" x="31.5" y="0"/><use href="#star" class="st G" x="76.5" y="0"/><use href="#star" class="st G" x="121.5" y="0"/><use href="#star" class="st B" x="151.5" y="45"/><use href="#star" class="st B" x="181.5" y="45"/><use href="#star" class="st Y" x="211.5" y="30"/>
<rect class="og" x="31.5" y="0" width="180" height="60"/>
<rect class="ob" x="31.5" y="0" width="133.8" height="60"/><rect class="ob" x="345.3" y="0" width="480" height="60"/>
<rect class="or" x="165.3" y="0" width="16.2" height="60"/><rect class="or" x="331.5" y="0" width="13.8" height="60"/><rect class="or" x="825.3" y="0" width="16.2" height="60"/>
</g>

<g id="row23" transform="translate(0,3583.3)">
<use href="#staff4"/>
<text class="m" x="31.5" y="-7">89</text><text class="m" x="271.5" y="-7">90</text><text class="m" x="511.5" y="-7">91</text><text class="m" x="751.5" y="-7">92</text>
<text class="a" x="270" y="76">180</text><text class="c" x="270" y="89">86050</text><text class="d" x="270" y="102">0.00%</text>
<text class="a" x="510" y="76">146</text><text class="c" x="510" y="89">86926</text><text class="d" x="510" y="102">0.00%</text>
<text class="a" x="750" y="76">108</text><text class="c" x="750" y="89">87574</text><text class="d" x="750" y="102">25.00%</text>
<text class="a" x="990" y="76">0</text><text class="c" x="990" y="89">87574</text><text class="d" x="990" y="102">25.00%</text>
<rect class="O" x="271.5" y="56.7" width="90" height="6.6"/>
<circle class="n Y" cx="61.5" cy="30" r="5"/><circle class="n Y" cx="121.5" cy="30" r="5"/><circle class="n B" cx="181.5" cy="45" r="5"/><circle class="n R" cx="211.5" cy="15" r="5"/><circle class="n B" cx="241.5" cy="45" r="5"/><circle class="n O" cx="271.5" cy="60" r="5"/>
<use href="#star" class="st G" x="451.5" y="0"/><use href="#star" class="st O" x="481.5" y="60"/><use href="#star" class="st B" x="541.5" y="45"/><use href="#star" class="st R" x="601.5" y="15"/><use href="#star" class="st Y" x="631.5" y="30"/>
<rect class="og" x="451.5" y="0" width="180" height="60"/>
</g>

<g id="row24" transform="translate(0,3736.3)">
<use href="#staff4"/>
<text class="m" x="31.5" y="-7">93</text><text class="m" x="271.5" y="-7">94</text><text class="m" x="511.5" y="-7">95</text><text class="m" x="751.5" y="-7">96</text>
<text class="a" x="270" y="76">0</text><text class="c" x="270" y="89">87574</text><text class="d" x="270" y="102">25.00%</text>
<text class="a" x="510" y="76">0</text><text class="c" x="510" y="89">87574</text><text class="d" x="510" y="102">25.00%</text>
<text class="a" x="750" y="76">0</text><text class="c" x="750" y="89">87574</text><text class="d" x="750" y="102">25.00%</text>
<text class="a" x="990" y="76">0</text><text class="c" x="990" y="89">87574</text><text class="d" x="990" y="102">25.00%</text>
</g>

<g id="row25" transform="translate(0,3889.3)">
<use href="#staff4"/>
<text class="m" x="31.5" y="-7">97</text><text class="m" x="271.5" y="-7">98</text><text class="m" x="511.5" y="-7">99</text><text class="m" x="751.5" y="-7">100</text>
<text class="a" x="270" y="76">0</text><text class="c" x="270" y="89">87574</text><text class="d" x="270" y="102">25.00%</text>
<text class="a" x="510" y="76">0</text><text class="c" x="510" y="89">87574</text><text class="d" x="510" y="102">25.00%</text>
<text class="a" x="750" y="76">36</text><text class="c" x="750" y="89">87790</text><text class="d" x="750" y="102">25.00%</text>
<text class="a" x="990" y="76">183</text><text class="c" x="990" y="89">88888</text><text class="d" x="990" y="102">25.00%</text>
<rect class="O" x="751.5" y="56.7" width="150" height="6.6"/><rect class="Y" x="961.5" y="26.7" width="30" height="6.6"/>
<circle class="n G" cx="691.5" cy="0" r="5"/><circle class="n O" cx="751.5" cy="60" r="5"/><circle class="n B" cx="931.5" cy="45" r="5"/><circle class="n Y" cx="961.5" cy="30" r="5"/>
</g>

<g id="row26" transform="translate(0,4042.3)">
<use href="#staff4"/>
<text class="m" x="31.5" y="-7">101</text><text class="m" x="271.5" y="-7">102</text><text class="m" x="511.5" y="-7">103</text><text class="m" x="751.5" y="-7">104</text>
<text class="a" x="270" y="76">74</text><text class="c" x="270" y="89">89332</text><text class="d" x="270" y="102">25.00%</text>
<text class="a" x="510" y="76">216</text><text class="c" x="510" y="89">91924</text><text class="d" x="510" y="102">13.36%</text>
<text class="a" x="750" y="76">144</text><text class="c" x="750" y="89">93868</text><text class="d" x="750" y="102">0.86%</text>
<text class="a" x="990" y="76">183</text><text class="c" x="990" y="89">95008</text><text class="d" x="990" y="102">25.00%</text>
<rect class="Y" x="31.5" y="26.7" width="90" height="6.6"/><rect class="Y" x="751.5" y="26.7" width="150" height="6.6"/><rect class="R" x="961.5" y="11.7" width="30" height="6.6"/>
<circle class="n R" cx="211.5" cy="15" r="5"/><circle class="n B" cx="271.5" cy="45" r="5"/><circle class="n Y" cx="301.5" cy="30" r="5"/><circle class="n Y" cx="361.5" cy="30" r="5"/><circle class="n R" cx="391.5" cy="15" r="5"/><circle class="n Y" cx="451.5" cy="30" r="5"/><circle class="n Y" cx="496.5" cy="30" r="5"/><circle class="n R" cx="511.5" cy="15" r="5"/><circle class="n R" cx="571.5" cy="15" r="5"/><circle class="n G" cx="601.5" cy="0" r="5"/><circle class="n G" cx="691.5" cy="0" r="5"/>
<use href="#star" class="st Y" x="751.5" y="30"/><use href="#star" class="st B" x="931.5" y="45"/><use href="#star" class="st R" x="961.5" y="15"/>
<rect class="og" x="751.5" y="0" width="240" height="60"/>
<rect class="ob" x="286.5" y="0" width="480" height="60"/>
<rect class="or" x="271.5" y="0" width="15" height="60"/>
</g>

<g id="row27" transform="translate(0,4195.3)">
<use href="#staff4"/>
<text class="m" x="31.5" y="-7">105</text><text class="m" x="271.5" y="-7">106</text><text class="m" x="511.5" y="-7">107</text><text class="m" x="751.5" y="-7">108</text>
<text class="a" x="270" y="76">74</text><text class="c" x="270" y="89">95452</text><text class="d" x="270" y="102">25.00%</text>
<text class="a" x="510" y="76">180</text><text class="c" x="510" y="89">96532</text><text class="d" x="510" y="102">25.00%</text>
<text class="a" x="750" y="76">169</text><text class="c" x="750" y="89">97546</text><text class="d" x="750" y="102">25.00%</text>
<text class="a" x="990" y="76">144</text><text class="c" x="990" y="89">98626</text><text class="d" x="990" y="102">21.86%</text>
<rect class="R" x="31.5" y="11.7" width="90" height="6.6"/><rect class="Y" x="661.5" y="26.7" width="60" height="6.6"/>
<circle class="n Y" cx="211.5" cy="30" r="5"/><circle class="n O" cx="271.5" cy="60" r="5"/><circle class="n Y" cx="301.5" cy="30" r="5"/><circle class="n B" cx="361.5" cy="45" r="5"/><circle class="n Y" cx="421.5" cy="30" r="5"/><circle class="n R" cx="481.5" cy="15" r="5"/><circle class="n Y" cx="511.5" cy="30" r="5"/><circle class="n B" cx="571.5" cy="45" r="5"/><circle class="n B" cx="631.5" cy="45" r="5"/><circle class="n Y" cx="661.5" cy="30" r="5"/><circle class="n R" cx="811.5" cy="15" r="5"/><circle class="n O" cx="841.5" cy="60" r="5"/><circle class="n R" cx="871.5" cy="15" r="5"/><circle class="n Y" cx="931.5" cy="30" r="5"/>
<rect class="og" x="31.5" y="0" width="90" height="60"/>
<rect class="ob" x="931.5" y="0" width="60" height="60"/>
</g>

<g id="row28" transform="translate(0,4348.3)">
<use href="#staff4"/>
<text class="m" x="31.5" y="-7">109</text><text class="m" x="271.5" y="-7">110</text><text class="m" x="511.5" y="-7">111</text><text class="m" x="751.5" y="-7">112</text>
<text class="a" x="270" y="76">216</text><text class="c" x="270" y="89">101218</text><text class="d" x="270" y="102">9.36%</text>
<text class="a" x="510" y="76">180</text><text class="c" x="510" y="89">103378</text><text class="d" x="510" y="102">0.00%</text>
<text class="a" x="750" y="76">180</text><text class="c" x="750" y="89">104674</text><text class="d" x="750" y="102">24.20%</text>
<text class="a" x="990" y="76">180</text><text class="c" x="990" y="89">106834</text><text class="d" x="990" y="102">11.70%</text>
<circle class="n G" cx="31.5" cy="0" r="5"/><circle class="n G" cx="76.5" cy="0" r="5"/><circle class="n G" cx="121.5" cy="0" r="5"/><circle class="n B" cx="151.5" cy="45" r="5"/><circle class="n O" cx="181.5" cy="60" r="5"/><circle class="n Y" cx="211.5" cy="30" r="5"/><circle class="n R" cx="331.5" cy="15" r="5"/><circle class="n O" cx="361.5" cy="60" r="5"/><circle class="n R" cx="391.5" cy="15" r="5"/><circle class="n R" cx="421.5" cy="15" r="5"/><circle class="n Y" cx="451.5" cy="30" r="5"/><circle class="n G" cx="721.5" cy="0" r="5"/><circle class="n Y" cx="751.5" cy="30" r="5"/><circle class="n B" cx="811.5" cy="45" r="5"/><circle class="n Y" cx="841.5" cy="30" r="5"/><circle class="n R" cx="901.5" cy="15" r="5"/><circle class="n R" cx="961.5" cy="15" r="5"/>
<use href="#star" class="st B" x="511.5" y="45"/><use href="#star" class="st Y" x="556.5" y="30"/><use href="#star" class="st Y" x="601.5" y="30"/><use href="#star" class="st G" x="631.5" y="0"/>
<rect class="og" x="511.5" y="0" width="120" height="60"/>
<rect class="ob" x="31.5" y="0" width="420" height="60"/><rect class="ob" x="735.3" y="0" width="256.2" height="60"/>
<rect class="or" x="721.5" y="0" width="13.8" height="60"/>
</g>

<g id="row29" transform="translate(0,4501.3)">
<use href="#staff3"/>
<text class="m" x="31.5" y="-7">113</text><text class="m" x="271.5" y="-7">114</text><text class="m" x="511.5" y="-7">115</text>
<text class="a" x="270" y="76">180</text><text class="c" x="270" y="89">108994</text><text class="d" x="270" y="102">0.00%</text>
<text class="a" x="510" y="76">146</text><text class="c" x="510" y="89">110086</text><text class="d" x="510" y="102">0.00%</text>
<text class="a" x="750" y="76">146</text><text class="c" x="750" y="89">110962</text><text class="d" x="750" y="102">0.00%</text>
<rect class="O" x="271.5" y="56.7" width="90" height="6.6"/><rect class="Y" x="631.5" y="26.7" width="90" height="6.6"/>
<circle class="n Y" cx="61.5" cy="30" r="5"/><circle class="n Y" cx="121.5" cy="30" r="5"/><circle class="n B" cx="181.5" cy="45" r="5"/><circle class="n R" cx="211.5" cy="15" r="5"/><circle class="n B" cx="241.5" cy="45" r="5"/><circle class="n O" cx="271.5" cy="60" r="5"/><circle class="n G" cx="451.5" cy="0" r="5"/><circle class="n O" cx="481.5" cy="60" r="5"/><circle class="n B" cx="541.5" cy="45" r="5"/><circle class="n R" cx="601.5" cy="15" r="5"/><circle class="n Y" cx="631.5" cy="30" r="5"/>
<rect class="ob" x="31.5" y="0" width="223.8" height="60"/>
<rect class="or" x="255.3" y="0" width="16.2" height="60"/>
</g>
</g>
</svg>
